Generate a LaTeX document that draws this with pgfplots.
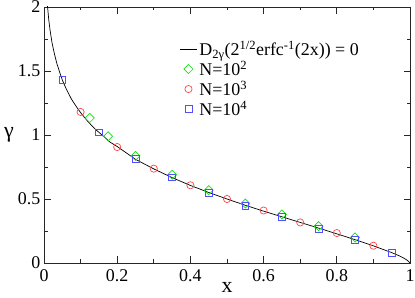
\documentclass[border=0pt]{standalone}
\usepackage{fontspec}
\setmainfont{Liberation Serif}
\usepackage{pgfplots}
\pgfplotsset{compat=1.18}
\definecolor{mkgreen}{RGB}{20,225,20}
\definecolor{mkred}{RGB}{255,70,70}
\definecolor{mkblue}{RGB}{80,80,255}
\begin{document}
\begin{tikzpicture}
\useasboundingbox (0,0) rectangle (415bp,298bp);
\begin{axis}[
  at={(44bp,35bp)}, anchor=south west,
  scale only axis, width=366bp, height=256bp,
  xmin=0, xmax=1, ymin=0, ymax=2,
  xtick={0,0.2,0.4,0.6,0.8,1}, ytick={0,0.5,1,1.5,2},
  minor x tick num=1, minor y tick num=1,
  tick align=inside, ticks=both,
  major tick length=6.5bp, minor tick length=3.5bp,
  axis line style={line width=0.9bp, black!85},
  every tick/.style={line width=0.9bp, black!85},
  font=\fontsize{18}{21}\selectfont,
  /pgf/number format/assume math mode=true,
  xticklabel style={anchor=north, inner sep=0pt, yshift=-6.5bp},
  yticklabel style={anchor=east, inner sep=0pt, xshift=-3.5bp},
  xlabel={x}, ylabel={γ},
  xlabel style={at={(axis description cs:0.5,-0.116)}, anchor=base, font=\fontsize{22}{24}\selectfont, inner sep=0pt},
  ylabel style={at={(axis description cs:-0.0956,0.5)}, rotate=-90, anchor=center, font=\fontsize{22}{24}\selectfont, inner sep=0pt},
  legend cell align=left,
  legend style={at={(axis description cs:0.37,0.876)}, anchor=north west, draw=none, fill=none, inner sep=0pt,
    font=\fontsize{18}{21}\selectfont},
]
\addplot[black, line width=0.7bp, mark=none] coordinates {
(0.0021,2.5) (0.0045,2.25) (0.0098,2.0) (0.013,1.90) (0.017,1.81) (0.022,1.72)
(0.028,1.64) (0.035,1.56) (0.0417,1.50) (0.05,1.43) (0.06,1.365) (0.075,1.28)
(0.09,1.215) (0.1,1.175) (0.12,1.105) (0.14,1.045) (0.1587,1.0) (0.18,0.945)
(0.2,0.91) (0.25,0.81) (0.3,0.735) (0.35,0.667) (0.4,0.606) (0.45,0.551)
(0.5,0.5) (0.55,0.451) (0.6,0.405) (0.65,0.361) (0.7,0.317) (0.75,0.273)
(0.8,0.228) (0.85,0.182) (0.9,0.134) (0.95,0.081) (0.97,0.057) (0.98,0.043)
(0.99,0.026) (0.995,0.015) (1.0,0)
};
\addlegendentry{D\textsubscript{2γ}(2\textsuperscript{1/2}erfc\textsuperscript{-1}(2x)) = 0}
\addplot[only marks, color=mkgreen, mark=square, mark size=3.2bp, mark options={rotate=45, line width=0.7bp}] coordinates {
(0.125,1.133) (0.175,0.99) (0.25,0.837) (0.35,0.689) (0.45,0.569) (0.55,0.465)
(0.65,0.379) (0.75,0.288) (0.85,0.2)
};
\addlegendentry{N=10\textsuperscript{2}}
\addplot[only marks, color=mkred, mark=o, mark size=3.6bp, mark options={line width=0.7bp}] coordinates {
(0.1,1.18) (0.2,0.906) (0.3,0.737) (0.4,0.607) (0.5,0.50) (0.6,0.41)
(0.7,0.317) (0.8,0.234) (0.9,0.135)
};
\addlegendentry{N=10\textsuperscript{3}}
\addplot[only marks, color=mkblue, mark=square, mark size=3.4bp, mark options={line width=0.7bp}] coordinates {
(0.05,1.43) (0.15,1.02) (0.25,0.815) (0.35,0.669) (0.45,0.549) (0.55,0.445)
(0.65,0.359) (0.75,0.268) (0.85,0.18) (0.95,0.08)
};
\addlegendentry{N=10\textsuperscript{4}}
\end{axis}
\end{tikzpicture}
\end{document}
